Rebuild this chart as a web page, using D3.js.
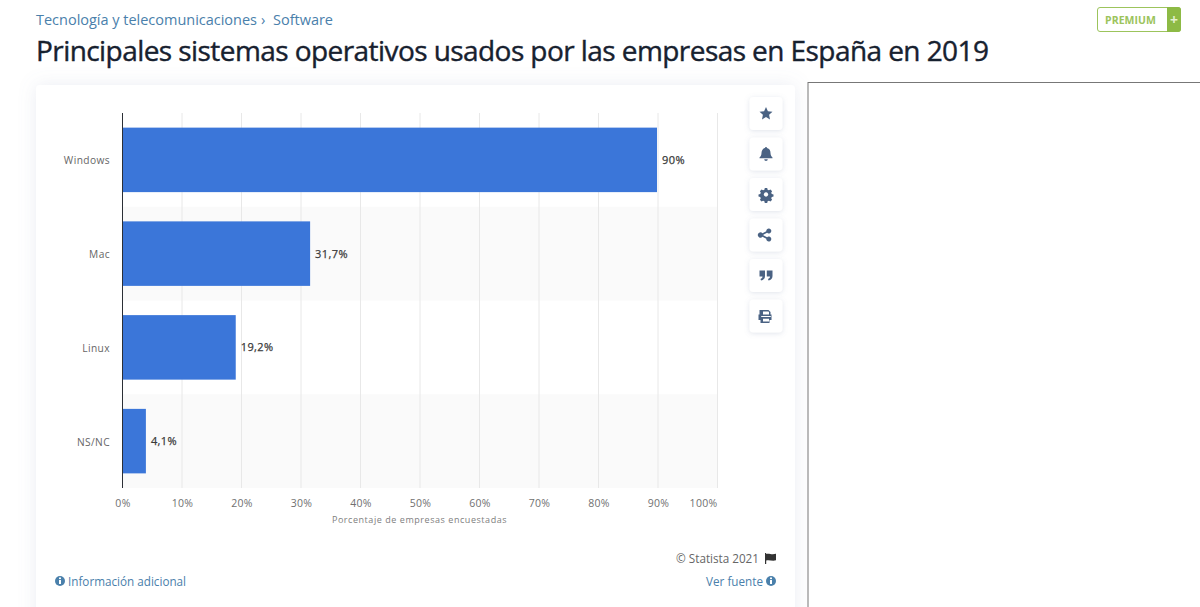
<!DOCTYPE html>
<html>
<head>
<meta charset="utf-8">
<script src="https://cdn.jsdelivr.net/npm/d3@7"></script>
<style>
html, body { margin: 0; padding: 0; background: #fff; overflow: hidden; }
svg { display: block; font-family: "Open Sans", sans-serif; }
</style>
</head>
<body>
<svg id="chart" width="1200" height="607"></svg>
<script>
const categories = ["Windows", "Mac", "Linux", "NS/NC"];
const values = [90, 31.7, 19.2, 4.1];
const valueLabels = ["90%", "31,7%", "19,2%", "4,1%"];
const ticks = [0, 10, 20, 30, 40, 50, 60, 70, 80, 90, 100];

const blue = "#3b76d9", iconColor = "#4a6283", linkColor = "#4a80ab";

const svg = d3.select("#chart");
const defs = svg.append("defs");

const shadow = defs.append("filter").attr("id", "card")
    .attr("x", "-10%").attr("y", "-10%").attr("width", "120%").attr("height", "120%");
shadow.append("feDropShadow").attr("dx", 0).attr("dy", 0).attr("stdDeviation", 9)
    .attr("flood-color", "#8090b0").attr("flood-opacity", 0.16);
const btnShadow = defs.append("filter").attr("id", "btn")
    .attr("x", "-30%").attr("y", "-30%").attr("width", "160%").attr("height", "160%");
btnShadow.append("feDropShadow").attr("dx", 0).attr("dy", 1).attr("stdDeviation", 2.5)
    .attr("flood-color", "#8090b0").attr("flood-opacity", 0.25);

// header
svg.append("text").attr("x", 36).attr("y", 25).attr("font-size", 14.5).attr("fill", linkColor)
    .attr("textLength", 221).text("Tecnología y telecomunicaciones");
svg.append("text").attr("x", 261).attr("y", 25).attr("font-size", 14.5).attr("fill", linkColor).text("›");
svg.append("text").attr("x", 273).attr("y", 25).attr("font-size", 14.5).attr("fill", linkColor)
    .attr("textLength", 60).text("Software");

// stroke thickens the regular face, the 600 weight is too heavy here
svg.append("text").attr("x", 36).attr("y", 61)
    .attr("font-size", 28).attr("fill", "#17212f")
    .attr("stroke", "#17212f").attr("stroke-width", 0.4)
    .attr("textLength", 953).attr("lengthAdjust", "spacing")
    .text("Principales sistemas operativos usados por las empresas en España en 2019");

// premium button
svg.append("rect").attr("x", 1097.5).attr("y", 7.5).attr("width", 83).attr("height", 24).attr("rx", 2.5)
    .attr("fill", "#fff").attr("stroke", "#9cc45c");
svg.append("path").attr("d", "M1167 7h11a3 3 0 0 1 3 3v19a3 3 0 0 1 -3 3h-11z").attr("fill", "#8dba45");
svg.append("text").attr("x", 1105).attr("y", 24).attr("font-size", 10.5).attr("font-weight", 700)
    .attr("fill", "#9cc45c").attr("textLength", 51).text("PREMIUM");
svg.append("text").attr("x", 1174).attr("y", 24.5).attr("text-anchor", "middle").attr("font-size", 14)
    .attr("font-weight", 700).attr("fill", "#e4f0d0").text("+");

// card
svg.append("rect").attr("x", 36).attr("y", 85).attr("width", 759).attr("height", 540).attr("rx", 4)
    .attr("fill", "#fff").attr("filter", "url(#card)");

// empty frame on the right
svg.append("rect").attr("x", 808).attr("y", 82.5).attr("width", 420).attr("height", 560)
    .attr("fill", "#fff").attr("stroke", "#777").attr("stroke-width", 1);

// chart
const x = d3.scaleLinear().domain([0, 100]).range([122.5, 717.5]);
const y = d3.scaleBand().domain(categories).range([113, 488]).paddingInner(0).paddingOuter(0);

const g = svg.append("g");

g.selectAll("rect.stripe").data(categories.filter((d, i) => i % 2 === 1)).join("rect")
    .attr("class", "stripe")
    .attr("x", x(0)).attr("width", x(100) - x(0))
    .attr("y", d => y(d)).attr("height", y.bandwidth())
    .attr("fill", "#fafafa");

g.selectAll("line.grid").data(ticks.slice(1)).join("line")
    .attr("class", "grid")
    .attr("x1", d => x(d)).attr("x2", d => x(d))
    .attr("y1", 113).attr("y2", 488)
    .attr("stroke", "#e8e8e8").attr("stroke-width", 1);

const barH = 64.5;
g.selectAll("rect.bar").data(values).join("rect")
    .attr("class", "bar")
    .attr("x", x(0))
    .attr("y", (d, i) => y(categories[i]) + (y.bandwidth() - barH) / 2)
    .attr("width", d => x(d) - x(0) - 1)
    .attr("height", barH)
    .attr("fill", blue);

g.append("line").attr("x1", x(0)).attr("x2", x(0)).attr("y1", 113).attr("y2", 488)
    .attr("stroke", "#2b2f36").attr("stroke-width", 1);

g.selectAll("text.value").data(values).join("text")
    .attr("class", "value")
    .attr("x", d => x(d) + 4)
    .attr("y", (d, i) => y(categories[i]) + y.bandwidth() / 2 + 4)
    .attr("font-size", 11).attr("fill", "#3a3a3a").attr("stroke", "#3a3a3a").attr("stroke-width", 0.25)
    .attr("letter-spacing", 0.4)
    .text((d, i) => valueLabels[i]);

g.selectAll("text.cat").data(categories).join("text")
    .attr("class", "cat")
    .attr("x", 110)
    .attr("y", d => y(d) + y.bandwidth() / 2 + 4.5)
    .attr("text-anchor", "end")
    .attr("font-size", 10.2).attr("fill", "#666").attr("letter-spacing", 0.4)
    .text(d => d);

g.selectAll("text.tick").data(ticks).join("text")
    .attr("class", "tick")
    .attr("x", d => d === 100 ? x(d) : x(d) + 0.5)
    .attr("y", 506.5)
    .attr("text-anchor", d => d === 100 ? "end" : "middle")
    .attr("font-size", 10.5).attr("fill", "#707070").attr("letter-spacing", 0.3)
    .text(d => d + "%");

g.append("text").attr("x", 419.5).attr("y", 523).attr("text-anchor", "middle")
    .attr("font-size", 9).attr("fill", "#808080").attr("letter-spacing", 0.55)
    .text("Porcentaje de empresas encuestadas");

// footer
function infoIcon(cx, cy) {
    svg.append("circle").attr("cx", cx).attr("cy", cy).attr("r", 5).attr("fill", linkColor);
    svg.append("rect").attr("x", cx - 1).attr("y", cy - 1).attr("width", 2).attr("height", 4).attr("fill", "#fff");
    svg.append("rect").attr("x", cx - 1).attr("y", cy - 3.5).attr("width", 2).attr("height", 1.6).attr("fill", "#fff");
}
infoIcon(60, 581);
svg.append("text").attr("x", 68).attr("y", 585.5).attr("font-size", 11.7).attr("fill", linkColor)
    .text("Información adicional");
svg.append("text").attr("x", 763).attr("y", 585.5).attr("text-anchor", "end").attr("font-size", 11.7)
    .attr("fill", linkColor).text("Ver fuente");
infoIcon(771, 581);
svg.append("text").attr("x", 759).attr("y", 562.5).attr("text-anchor", "end").attr("font-size", 11.7)
    .attr("fill", "#666").text("© Statista 2021");
svg.append("path").attr("d", "M765 553h1.2v1c3-1 5 1 9.800-.2v6.500c-4 1.200-6.800-1-9.800 .2v3.500h-1.200z").attr("fill", "#333");

// side buttons
const buttonY = [113.5, 154, 194.500, 235, 275.500, 316];
const btn = svg.append("g").selectAll("g").data(buttonY).join("g")
    .attr("transform", d => `translate(766,${d})`);
btn.append("rect").attr("x", -16.500).attr("y", -16.500).attr("width", 33).attr("height", 33).attr("rx", 4)
    .attr("fill", "#fff").attr("filter", "url(#btn)");

const icons = [
    "M0-6.500L1.900-2.300 6.500-1.800 3.100 1.300 4 5.900 0 3.600-4 5.900-3.100 1.300-6.500-1.800-1.900-2.300z",
    "M0-7a1 1 0 0 1 1 1.100C3.500-5.300 4.500-3.200 4.500-1c0 2.500 1 3.500 2 4.500v.8h-13v-.8c1-1 2-2 2-4.500 0-2.200 1-4.300 3.500-4.900A1 1 0 0 1 0-7zM-1.800 5.300h3.600A1.800 1.800 0 0 1-1.800 5.300z",
    "M-1.200-6.500h2.400l.4 1.700 1.300.6 1.600-.8 1.600 1.700-.9 1.500.6 1.300 1.700.4v2.200l-1.700.4-.6 1.300.9 1.500-1.600 1.700-1.600-.8-1.300.6-.4 1.700h-2.400l-.4-1.700-1.300-.6-1.600.8-1.600-1.700.9-1.500-.6-1.300-1.700-.4v-2.200l1.700-.4.6-1.300-.9-1.500 1.600-1.700 1.600.8 1.300-.6zM0-2.200a2.200 2.200 0 1 0 .01 0z",
    "M-3.500-1.700a2.600 2.600 0 1 0 0 3.400l3.800 2a2.500 2.500 0 1 0 .8-1.500l-3.800-2a2.600 2.600 0 0 0 0-.4l3.800-2a2.500 2.500 0 1 0-.8-1.500z",
    "M-6.500-5h5.500v5.500c0 2.500-1.500 4-4 4.500l-.5-1.500c1.200-.4 2-1.200 2-2.500h-3zM.8-5h5.700v5.500c0 2.500-1.500 4-4 4.500l-.5-1.500c1.200-.4 2-1.200 2-2.500H.8z",
    "M-4.500-6h7l2 2v2.500h1v5.500h-2v3h-9v-3h-2v-5.500h1V-6zM-3-4.500v3h6v-2.500l-.7-.5zM-3 2.700v2.800h6V2.700zM-4.800 0v1h9.600V0z"
];
btn.append("path").attr("d", (d, i) => icons[i]).attr("fill", iconColor).attr("fill-rule", "evenodd");
</script>
</body>
</html>
